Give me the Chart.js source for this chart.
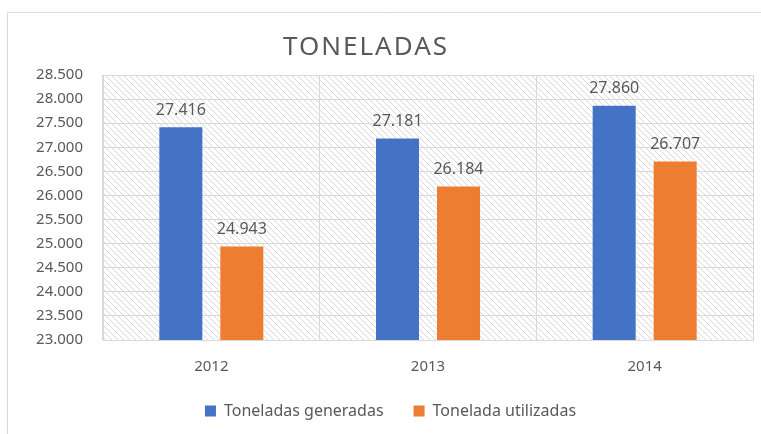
<!DOCTYPE html>
<html lang="es">
<head>
    <meta charset="UTF-8">
    <title>Toneladas</title>
    <script src="https://cdn.jsdelivr.net/npm/chart.js@4"></script>
    <style>
        html, body { margin: 0; padding: 0; background: #fff; }
        #wrap { width: 761px; height: 434px; }
    </style>
</head>
<body>
    <div id="wrap"><canvas id="tonChart"></canvas></div>
    <script>
        const years = ['2012', '2013', '2014'];
        const generadas = [27416, 27181, 27860];
        const utilizadas = [24943, 26184, 26707];
        const seriesNames = ['Toneladas generadas', 'Tonelada utilizadas'];
        const chartTitle = 'TONELADAS';
        const yMin = 23000, yMax = 28500, yStep = 500;

        const gray = '#595959';
        const lineGray = '#d9d9d9';
        const font = '"Noto Sans", sans-serif';

        function fmt(v) {
            return String(Math.round(v)).replace(/\B(?=(\d{3})+(?!\d))/g, '.');
        }

        // diagonal hatch for plot background
        function hatch() {
            const c = document.createElement('canvas');
            c.width = 6; c.height = 6;
            const g = c.getContext('2d');
            g.fillStyle = '#fff';
            g.fillRect(0, 0, 6, 6);
            g.strokeStyle = '#dadada';
            g.lineWidth = 1;
            g.beginPath();
            g.moveTo(-1, -1); g.lineTo(7, 7);
            g.moveTo(-4, 2); g.lineTo(4, 10);
            g.moveTo(2, -4); g.lineTo(10, 4);
            g.stroke();
            return g.createPattern(c, 'repeat');
        }

        const backdrop = {
            id: 'backdrop',
            beforeDraw(chart) {
                const { ctx, chartArea: a } = chart;
                ctx.save();
                ctx.fillStyle = hatch();
                ctx.fillRect(a.left, a.top, a.right - a.left, a.bottom - a.top);
                ctx.strokeStyle = lineGray;
                ctx.lineWidth = 1;
                ctx.beginPath();
                ctx.moveTo(7.5, 434); ctx.lineTo(7.5, 12.5); ctx.lineTo(761, 12.5);
                ctx.stroke();
                // title sits a little left of centre, like the original
                ctx.fillStyle = gray;
                ctx.font = '26px ' + font;
                ctx.letterSpacing = '2px';
                ctx.textAlign = 'center';
                ctx.textBaseline = 'middle';
                ctx.fillText(chartTitle, 366, 48);
                ctx.restore();
            },
            afterDraw(chart) {
                const { ctx, chartArea: a } = chart;
                ctx.save();
                ctx.strokeStyle = lineGray;
                ctx.lineWidth = 1;
                ctx.strokeRect(Math.round(a.left) + 0.5, Math.round(a.top) + 0.5,
                    Math.round(a.right - a.left), Math.round(a.bottom - a.top));
                ctx.restore();
            }
        };

        const valueLabels = {
            id: 'valueLabels',
            afterDatasetsDraw(chart) {
                const ctx = chart.ctx;
                ctx.save();
                ctx.fillStyle = gray;
                ctx.font = '16px ' + font;
                ctx.textAlign = 'center';
                ctx.textBaseline = 'bottom';
                chart.data.datasets.forEach((ds, i) => {
                    chart.getDatasetMeta(i).data.forEach((bar, j) => {
                        ctx.fillText(fmt(ds.data[j]), bar.x, bar.y - 9);
                    });
                });
                ctx.restore();
            }
        };

        new Chart(document.getElementById('tonChart'), {
            type: 'bar',
            data: {
                labels: years,
                datasets: [
                    { label: seriesNames[0], data: generadas, backgroundColor: '#4472C4' },
                    { label: seriesNames[1], data: utilizadas, backgroundColor: '#ED7D31' }
                ]
            },
            options: {
                responsive: true,
                maintainAspectRatio: false,
                animation: false,
                categoryPercentage: 0.563,
                barPercentage: 0.705,
                layout: { padding: { left: 28, right: 8, top: 75, bottom: 5 } },
                plugins: {
                    title: { display: false },
                    legend: {
                        position: 'bottom',
                        labels: {
                            color: gray,
                            font: { family: font, size: 16 },
                            boxWidth: 11,
                            boxHeight: 11,
                            padding: 30
                        }
                    },
                    tooltip: { enabled: false }
                },
                scales: {
                    x: {
                        grid: { color: lineGray, drawTicks: false },
                        border: { color: lineGray },
                        ticks: { color: gray, font: { family: font, size: 15 }, padding: 18 },
                        afterFit(s) { s.height = 33; }
                    },
                    y: {
                        min: yMin,
                        max: yMax,
                        grid: { color: lineGray, drawTicks: false },
                        border: { color: lineGray },
                        ticks: {
                            stepSize: yStep,
                            color: gray,
                            font: { family: font, size: 15 },
                            padding: 20,
                            callback: v => fmt(v)
                        },
                        afterFit(s) { s.width = 75; }
                    }
                }
            },
            plugins: [backdrop, valueLabels]
        });
    </script>
</body>
</html>
